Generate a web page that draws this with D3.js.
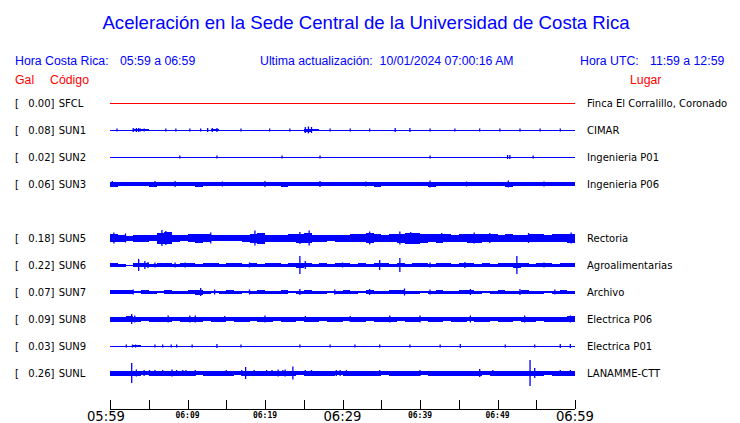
<!DOCTYPE html>
<html><head><meta charset="utf-8">
<script src="https://cdn.jsdelivr.net/npm/d3@7"></script>
<style>body{margin:0;background:#fff}svg{display:block}</style>
</head><body>
<svg id="c" width="740" height="423"></svg>
<script>
// ---------------- DATA ----------------
const rowOrder = ["SFCL","SUN1","SUN2","SUN3","SUN4","SUN5","SUN6","SUN7","SUN8","SUN9","SUNL"];
const stations = ["SFCL","SUN1","SUN2","SUN3","SUN5","SUN6","SUN7","SUN8","SUN9","SUNL"];
const peakGal  = ["0.00","0.08","0.02","0.06","0.18","0.22","0.07","0.09","0.03","0.26"];
const places   = ["Finca El Corralillo, Coronado","CIMAR","Ingenieria P01","Ingenieria P06","Rectoria","Agroalimentarias","Archivo","Electrica P06","Electrica P01","LANAMME-CTT"];
const traceColors = ["#ff0000","#0000ff","#0000ff","#0000ff","#0000ff","#0000ff","#0000ff","#0000ff","#0000ff","#0000ff"];

const titleText = "Aceleración en la Sede Central de la Universidad de Costa Rica";
const localLabel = "Hora Costa Rica:", localRange = "05:59 a 06:59";
const updateLabel = "Ultima actualización:  10/01/2024 07:00:16 AM";
const utcLabel = "Hora UTC:", utcRange = "11:59 a 12:59";
const startTime = "2024-10-01T05:59:00", endTime = "2024-10-01T06:59:00";

// per-minute half-amplitude envelopes (display units)
const envSFCL = [0.5,0.5,0.5,0.5,0.5,0.5,0.5,0.5,0.5,0.5, 0.5,0.5,0.5,0.5,0.5,0.5,0.5,0.5,0.5,0.5, 0.5,0.5,0.5,0.5,0.5,0.5,0.5,0.5,0.5,0.5, 0.5,0.5,0.5,0.5,0.5,0.5,0.5,0.5,0.5,0.5, 0.5,0.5,0.5,0.5,0.5,0.5,0.5,0.5,0.5,0.5, 0.5,0.5,0.5,0.5,0.5,0.5,0.5,0.5,0.5,0.5];
const envSUN1 = [0.5,0.5,0.5,1,1,0.5,0.5,0.5,0.5,0.5, 0.5,0.5,0.5,1,0.5,0.5,0.5,0.5,0.5,0.5, 0.5,0.5,0.5,0.5,0.5,1.5,1,0.5,0.5,0.5, 0.5,0.5,0.5,0.5,0.5,0.5,0.5,0.5,0.5,0.5, 0.5,0.5,0.5,0.5,0.5,0.5,0.5,0.5,0.5,0.5, 0.5,0.5,0.5,0.5,0.5,0.5,0.5,0.5,0.5,0.5];
const envSUN2 = [0.5,0.5,0.5,0.5,0.5,0.5,0.5,0.5,0.5,0.5, 0.5,0.5,0.5,0.5,0.5,0.5,0.5,0.5,0.5,0.5, 0.5,0.5,0.5,0.5,0.5,0.5,0.5,0.5,0.5,0.5, 0.5,0.5,0.5,0.5,0.5,0.5,0.5,0.5,0.5,0.5, 0.5,0.5,0.5,0.5,0.5,0.5,0.5,0.5,0.5,0.5, 0.5,0.5,0.5,0.5,0.5,0.5,0.5,0.5,0.5,0.5];
const envSUN3 = [2.5,2,2,2,2,2.5,2,2,2,2, 2,2.5,2,2,2,2,2,2,2,2, 2,2,2.5,2,2,2,2,2,2,2, 2,2,2,2,2.5,2,2,2,2,2, 2,2.5,2,2,2,2,2,2,2,2, 2,2.5,2,2,2,2,2,2,2,2];
const envSUN5 = [4,3.5,2.5,3.5,3.5,3,5.5,6,3.5,3, 4,4.5,4,3,3,3,3,3.5,4.5,5.5, 3.5,3.5,3.5,4,4.5,5,3.5,3.5,3,3.5, 3.5,4,4,5,4,3.5,4,4.5,5.5,5.5, 4.5,4,4.5,4,3.5,4,4.5,4.5,4,4, 3.5,4,3.5,3.5,4,4,3.5,4,4,4.5];
const envSUN6 = [2,1.5,0.5,2,2,1.5,2,2,1.5,2, 2,1.5,2,2,1.5,2,2,1.5,2,1.5, 2,2,1.5,2,2.5,2,1.5,2,1.5,2, 2,1.5,2,1.5,2,2,1.5,2,1.5,2, 2,1.5,2,2,1.5,2,2,1.5,2,1.5, 2,2,2.5,2,1.5,2,2,1.5,2,2];
const envSUN7 = [2,2,2,1,2,1.5,1,2,1.5,1.5, 2,2.5,1.5,1,1.5,2,1.5,1,1.5,2, 1.5,1.5,2,1,1.5,2,1.5,1.5,1,1.5, 2,1.5,1,2,1.5,1.5,2,2,1.5,1.5, 1,1.5,2,1.5,1.5,2,2,1.5,1,1.5, 2,1.5,1.5,2,1.5,1.5,1,1.5,2,1.5];
const envSUN8 = [2.5,2.5,3,2.5,2,2.5,2.5,2.5,2,2.5, 2.5,2.5,2,2.5,2.5,2,2.5,2.5,2,2.5, 2.5,2,2.5,2.5,2,2.5,2.5,2,2.5,2.5, 2,2.5,2.5,2,2.5,2.5,2.5,2,2.5,2.5, 2,2.5,2.5,2,2.5,2.5,2,2.5,2.5,2, 2.5,2.5,2,2.5,2.5,2,2.5,2.5,2.5,3];
const envSUN9 = [0.5,0.5,0.5,1,0.5,0.5,0.5,0.5,0.5,0.5, 0.5,0.5,0.5,0.5,0.5,0.5,0.5,0.5,0.5,0.5, 0.5,0.5,0.5,0.5,0.5,0.5,0.5,0.5,0.5,0.5, 0.5,0.5,0.5,0.5,0.5,0.5,0.5,0.5,0.5,0.5, 0.5,0.5,0.5,0.5,0.5,0.5,0.5,0.5,0.5,0.5, 0.5,0.5,0.5,0.5,0.5,0.5,0.5,0.5,0.5,0.5];
const envSUNL = [2.5,2.5,2.5,2.5,2,2.5,2.5,2.5,2.5,2.5, 2.5,2,2.5,2.5,2.5,2.5,2,2.5,2.5,2.5, 2.5,2.5,2.5,2.5,2,2.5,2.5,2.5,2.5,2, 2.5,2.5,2.5,2.5,2.5,2,2.5,2.5,2.5,2.5, 2,2.5,2.5,2.5,2.5,2.5,2.5,2.5,2,2.5, 2.5,2.5,2.5,2.5,2.5,2.5,2,2.5,2.5,2.5];

// spikes: [minute after start, half-amplitude]
const spkSFCL = [];
const spkSUN1 = [[0.9,1.5],[3.0,2],[3.4,2],[3.7,2],[3.9,1.5],[4.4,1.5],[7.2,1.5],[8.5,1.5],[10.3,1.5],[11.7,1.5],[12.6,2],[13.2,2],[13.8,2],[16.9,1.5],[20.6,1.5],[23.2,1.5],[25.2,3],[25.6,3.5],[26.0,3],[28.4,1.5],[31.0,1.5],[33.5,1.5],[36.8,2],[38.7,2],[41.3,1.5],[44.5,1.5],[47.7,1.5],[50.3,1.5],[52.9,1.5],[55.5,1.5],[58.1,1.5]];
const spkSUN2 = [[9.0,1.5],[13.8,1.5],[22.2,1.5],[27.1,1.5],[41.3,1.5],[51.3,2],[51.6,2],[54.6,1.5]];
const spkSUN3 = [[0.3,3],[5.8,3],[8.4,3],[14.5,2.5],[20.0,3],[27.1,3],[33.0,2.5],[41.3,3.5],[46.0,2.5],[51.4,3.5],[56.0,2.5]];
const spkSUN5 = [[0.5,5.5],[2.0,4.5],[6.7,8],[7.2,7],[13.0,5.5],[18.7,7.5],[25.7,7.5],[24.5,6],[33.5,6.5],[37.4,6.5],[38.8,6],[42.8,5],[47.0,5.5],[49.0,5],[54.0,5],[59.5,5.5]];
const spkSUN6 = [[3.7,6],[4.5,4],[4.9,3],[5.8,2.5],[8.4,2.5],[9.7,2.5],[18.0,2.5],[24.5,9],[25.2,4],[30.0,2.5],[34.8,5],[37.4,7],[41.3,2.5],[45.8,3],[52.5,9],[56.0,2.5]];
const spkSUN7 = [[3.0,2.5],[11.7,4],[13.5,2.5],[18.0,2.5],[24.5,3],[29.0,2.5],[33.5,3],[38.0,3.5],[41.3,2.5],[46.5,3],[52.9,3],[57.4,2.5]];
const spkSUN8 = [[2.8,5],[3.2,3.5],[7.5,3.5],[10.3,3.5],[11.0,3.5],[14.8,3],[20.0,3.5],[25.2,3],[31.0,3],[36.1,3.5],[40.0,3.5],[46.5,3.5],[53.5,3.5],[59.4,3.5]];
const spkSUN9 = [[2.1,1.5],[2.9,1.5],[3.3,1.5],[5.8,1.5],[6.8,1.5],[7.9,1.5],[8.6,1.5],[10.6,1.5],[13.8,2],[16.9,1.5],[24.5,1.5],[28.4,1.5],[31.6,1.5],[34.8,1.5],[38.7,1.5],[42.6,1.5],[45.2,2],[51.0,1.5],[54.8,1.5],[58.1,2],[59.4,2]];
const spkSUNL = [[2.8,10],[3.4,3.5],[4.4,3],[5.1,3],[5.8,3],[6.8,3],[8.0,3.5],[8.6,3],[9.4,3],[9.8,3],[11.0,3],[15.0,3],[17.0,3],[17.5,6],[18.6,3],[20.2,3],[20.9,3],[21.7,3.5],[22.3,3],[22.6,3.5],[23.6,6.5],[25.2,3],[26.0,3],[29.2,3],[29.7,3],[30.5,3],[34.8,3],[40.0,3],[47.7,4],[49.4,3],[54.2,13],[54.8,5],[58.1,3],[59.4,3]];

const envelopes = [envSFCL,envSUN1,envSUN2,envSUN3,envSUN5,envSUN6,envSUN7,envSUN8,envSUN9,envSUNL];
const spikes = [spkSFCL,spkSUN1,spkSUN2,spkSUN3,spkSUN5,spkSUN6,spkSUN7,spkSUN8,spkSUN9,spkSUNL];

// ---------------- CHART ----------------
const svg = d3.select("#c");
const SANS = "'Liberation Sans', Arial, Helvetica, sans-serif";
const DV = "'DejaVu Sans', sans-serif";
const BLUE = "#0000ff", RED = "#ff0000";

const t0 = new Date(startTime), t1 = new Date(endTime);
const x = d3.scaleTime().domain([t0, t1]).range([110, 575]);
const y = d3.scalePoint().domain(rowOrder).range([103, 373]);
const amp = d3.scaleLinear().domain([0, 10]).range([0, 10]);
const minute = m => new Date(t0.getTime() + m * 60000);

// Title & header
svg.append("text").attr("x", 366).attr("y", 29).attr("text-anchor", "middle")
  .attr("font-family", SANS).attr("font-size", 18.6).attr("fill", BLUE).text(titleText);

const hdr = [[15, localLabel],[120, localRange],[260, updateLabel],[580, utcLabel],[650, utcRange]];
svg.selectAll("text.hdr").data(hdr).join("text").attr("class","hdr")
  .attr("x", d => d[0]).attr("y", 65).attr("font-family", SANS).attr("font-size", 12.3)
  .attr("fill", BLUE).attr("xml:space","preserve").text(d => d[1]);

svg.append("text").attr("x", 15).attr("y", 84).attr("font-family", SANS).attr("font-size", 12.3).attr("fill", RED).text("Gal");
svg.append("text").attr("x", 50).attr("y", 84).attr("font-family", SANS).attr("font-size", 12.3).attr("fill", RED).text("Código");
svg.append("text").attr("x", 630).attr("y", 84).attr("font-family", SANS).attr("font-size", 12.3).attr("fill", RED).text("Lugar");

// Rows
stations.forEach((st, k) => {
  const yc = y(st);
  const g = svg.append("g");
  g.append("text").attr("x", 15).attr("y", yc + 3.7).attr("font-family", DV).attr("font-size", 10).text("[");
  g.append("text").attr("x", 54.5).attr("y", yc + 3.7).attr("text-anchor","end").attr("font-family", DV).attr("font-size", 10).text(peakGal[k] + "]");
  g.append("text").attr("x", 58.7).attr("y", yc + 3.7).attr("font-family", DV).attr("font-size", 10).text(st);
  g.append("text").attr("x", 587).attr("y", yc + 3.7).attr("font-family", DV).attr("font-size", 10).text(places[k]);

  const col = traceColors[k];
  g.selectAll("rect.env").data(envelopes[k]).join("rect").attr("class","env")
    .attr("x", (d, i) => x(minute(i)))
    .attr("width", (d, i) => x(minute(i + 1)) - x(minute(i)))
    .attr("y", d => yc - amp(d))
    .attr("height", d => 2 * amp(d))
    .attr("fill", col).attr("shape-rendering", "crispEdges");
  g.selectAll("line.spk").data(spikes[k]).join("line").attr("class","spk")
    .attr("x1", d => x(minute(d[0]))).attr("x2", d => x(minute(d[0])))
    .attr("y1", d => yc - amp(d[1])).attr("y2", d => yc + amp(d[1]))
    .attr("stroke", col).attr("stroke-width", 1.3);
});

// Time axis
const axisY = 409;
const ticks = d3.timeMinute.range(t0, minute(60.01), 5);
const ax = svg.append("g").attr("font-family", DV);
ax.append("line").attr("x1", x(t0)).attr("x2", x(t1)).attr("y1", axisY + 0.5).attr("y2", axisY + 0.5)
  .attr("stroke", "#000").attr("stroke-width", 1);
ax.selectAll("line.tk").data(ticks).join("line").attr("class","tk")
  .attr("x1", d => Math.round(x(d)) + 0.5).attr("x2", d => Math.round(x(d)) + 0.5)
  .attr("y1", 400).attr("y2", axisY).attr("stroke", "#000").attr("stroke-width", 1);
const fmt = d3.timeFormat("%H:%M");
const mins = d => Math.round((d - t0) / 60000);
const labelTicks = ticks.filter(d => mins(d) % 10 === 0);
const isMajor = d => mins(d) % 30 === 0;
ax.selectAll("text.tl").data(labelTicks).join("text").attr("class","tl")
  .attr("x", d => x(d) - (mins(d) === 0 ? 4 : 0))
  .attr("y", d => isMajor(d) ? 421 : 418.3)
  .attr("text-anchor", "middle")
  .attr("font-family", d => isMajor(d) ? DV : "'DejaVu Sans Mono', monospace")
  .attr("font-size", d => isMajor(d) ? 13.2 : 8)
  .attr("font-weight", d => isMajor(d) ? "normal" : "bold")
  .text(d => fmt(d));
</script>
</body></html>
